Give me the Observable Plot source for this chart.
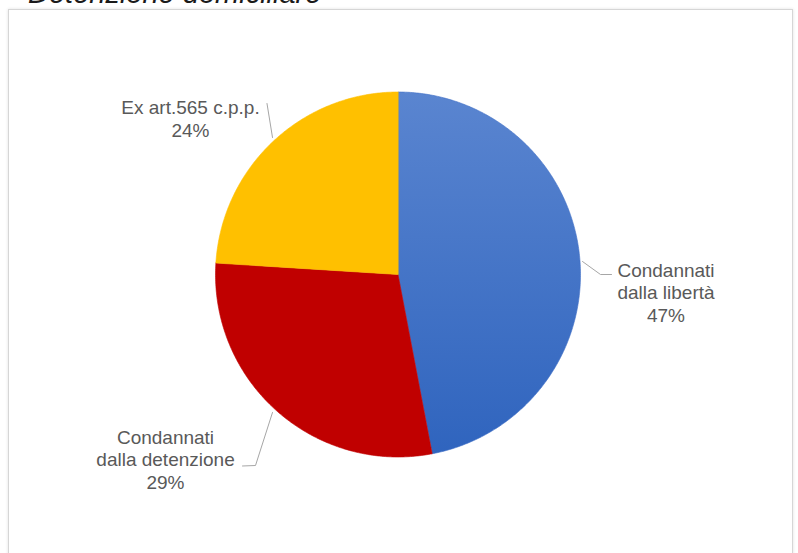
<!DOCTYPE html>
<html>
<head>
<meta charset="utf-8">
<script src="https://cdn.jsdelivr.net/npm/d3@7"></script>
<script src="https://cdn.jsdelivr.net/npm/@observablehq/plot@0.6"></script>
<style>
  html, body { margin: 0; padding: 0; background: #fff; overflow: hidden; }
  #wrap { position: relative; width: 798px; height: 553px; overflow: hidden; }
  #title { position: absolute; left: 28px; top: -21.5px; font-family: "Liberation Sans", Arial, sans-serif;
           font-style: italic; font-size: 29px; line-height: 29px; color: #1a1a1a; white-space: nowrap; }
  #box { position: absolute; left: 8px; top: 9px; width: 783px; height: 600px; border: 1px solid #d6d6d6;
         box-shadow: 0 0 3px rgba(0,0,0,0.12); background: #fff; }
  #chart { position: absolute; left: 0; top: 0; }
</style>
</head>
<body>
<div id="wrap">
  <div id="box"></div>
  <div id="title">Detenzione domiciliare</div>
  <div id="chart"></div>
</div>
<script>
// ---- data ----
const categories = ["Condannati dalla libertà", "Condannati dalla detenzione", "Ex art.565 c.p.p."];
const labelLines = ["Condannati\ndalla libertà", "Condannati\ndalla detenzione", "Ex art.565 c.p.p."];
const percents = [47, 29, 24];

// ---- layout (pixels) ----
const W = 798, H = 553;
const CX = 397.5, CY = 274, R = 182.5;
const colors = ["url(#blueGrad)", "#c00000", "#ffc000"];
const seamColors = ["#3f6fc6", "#c00000", "#ffc000"];
const labelPos = [[665.5, 291.5], [165, 458.5], [190, 118]];
const leaders = [
  [[582, 261], [600, 274], [611, 274]],
  [[272, 412], [255, 465], [242, 465.5]],
  [[266.5, 103], [272, 137]]
];

const toU = ([px, py]) => ({x: (px - CX) / R, y: (py - CY) / R});

const data = categories.map((c, i) => ({category: c, label: labelLines[i] + "\n" + percents[i] + "%", value: percents[i]}));
const arcs = d3.pie().sort(null).value(d => d.value).startAngle(0).endAngle(2 * Math.PI)(data);

const marks = [];
arcs.forEach((a, i) => {
  const pts = [{x: 0, y: 0}];
  const n = Math.max(8, Math.ceil((a.endAngle - a.startAngle) / 0.01));
  for (let k = 0; k <= n; k++) {
    const t = a.startAngle + (a.endAngle - a.startAngle) * k / n;
    pts.push({x: Math.sin(t), y: -Math.cos(t)});
  }
  marks.push(Plot.line(pts, {x: "x", y: "y", curve: "linear-closed", fill: colors[i],
    stroke: seamColors[i], strokeWidth: 0.6}));
});

leaders.forEach(l => {
  marks.push(Plot.line(l.map(toU), {x: "x", y: "y", stroke: "#a6a6a6", strokeWidth: 1}));
});

marks.push(Plot.text(data.map((d, i) => ({...toU(labelPos[i]), label: d.label})), {
  x: "x", y: "y", text: "label", textAnchor: "middle", lineAnchor: "middle",
  lineHeight: 1.2, fontSize: 19, fill: "#595959"
}));

const plot = Plot.plot({
  width: W, height: H,
  margin: 0,
  style: {background: "transparent", fontFamily: "'Liberation Sans', Arial, sans-serif"},
  x: {domain: [-CX / R, (W - CX) / R], axis: null},
  y: {domain: [-CY / R, (H - CY) / R], reverse: true, axis: null},
  marks
});

const svg = d3.select(plot);
const defs = svg.insert("defs", ":first-child");
const g = defs.append("linearGradient").attr("id", "blueGrad")
  .attr("gradientUnits", "userSpaceOnUse")
  .attr("x1", 0).attr("y1", CY - R).attr("x2", 0).attr("y2", CY + R);
g.append("stop").attr("offset", "0%").attr("stop-color", "#5a85d0");
g.append("stop").attr("offset", "100%").attr("stop-color", "#2f64be");

document.getElementById("chart").appendChild(plot);
</script>
</body>
</html>
